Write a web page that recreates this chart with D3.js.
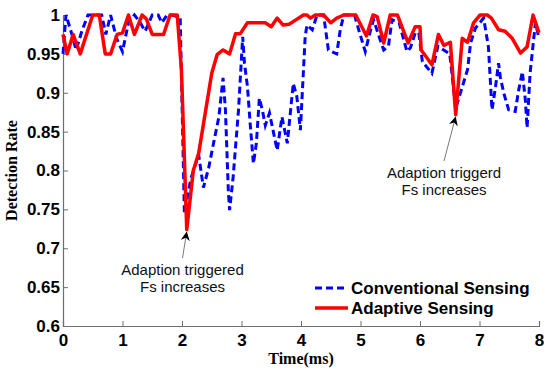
<!DOCTYPE html>
<html>
<head>
<meta charset="utf-8">
<script src="https://cdn.jsdelivr.net/npm/d3@7"></script>
<style>
  body { margin: 0; background: #fff; }
  svg { display: block; }
  .tick text { font-family: "Liberation Sans", Arial, sans-serif; font-weight: bold; font-size: 17px; fill: #000; }
</style>
</head>
<body>
<div id="chart"></div>
<script>
// data
var timeConv = [0, 0.05, 0.15, 0.22, 0.32, 0.42, 0.55, 0.65, 0.72, 0.8, 0.9, 1.0, 1.1, 1.2, 1.3, 1.38, 1.5, 1.6, 1.66, 1.75,
  1.84, 1.97, 2.04, 2.15, 2.28, 2.36, 2.45, 2.53, 2.62, 2.69, 2.73, 2.78, 2.8, 2.86, 2.95, 3.02, 3.05, 3.1, 3.15, 3.2,
  3.25, 3.3, 3.35, 3.4, 3.47, 3.54, 3.6, 3.68, 3.77, 3.87, 3.93, 3.99, 4.07, 4.1, 4.19, 4.27, 4.38, 4.46, 4.6, 4.66,
  4.72, 4.9, 4.97, 5.08, 5.17, 5.22, 5.33, 5.39, 5.47, 5.53, 5.65, 5.78, 5.84, 5.92, 5.98, 6.04, 6.2, 6.3, 6.5, 6.6,
  6.68, 6.8, 6.85, 6.93, 7.07, 7.15, 7.21, 7.27, 7.32, 7.35, 7.41, 7.49, 7.6, 7.66, 7.72, 7.77, 7.8, 7.85, 7.94, 8.0];
var rateConv = [0.95, 1.0, 0.975, 0.955, 0.98, 1.0, 1.0, 1.0, 0.975, 1.0, 0.97, 0.953, 0.99, 1.0, 0.99, 0.979, 1.0, 1.0, 0.99, 1.0,
  1.0, 0.996, 0.745, 0.79, 0.82, 0.778, 0.804, 0.835, 0.869, 0.919, 0.878, 0.771, 0.749, 0.792, 0.878, 0.972, 0.938, 0.908, 0.856, 0.809,
  0.835, 0.893, 0.878, 0.858, 0.874, 0.848, 0.826, 0.869, 0.835, 0.912, 0.895, 0.852, 0.972, 0.987, 0.981, 1.0, 1.0, 0.955, 0.95, 0.981,
  1.0, 1.0, 0.981, 0.953, 0.981, 0.994, 0.968, 0.955, 0.96, 0.994, 0.99, 0.953, 0.958, 0.977, 0.977, 0.94, 0.925, 0.96, 0.95, 0.88,
  0.90, 0.93, 0.964, 0.983, 0.996, 0.959, 0.878, 0.908, 0.938, 0.92, 0.899, 0.878, 0.876, 0.904, 0.927, 0.891, 0.855, 0.925, 0.99, 0.97];

var timeAdapt = [0, 0.07, 0.17, 0.29, 0.5, 0.61, 0.71, 0.8, 0.91, 1.0, 1.1, 1.2, 1.33, 1.4, 1.5, 1.69, 1.8, 1.92, 1.99, 2.08,
  2.19, 2.28, 2.5, 2.59, 2.69, 2.8, 2.9, 2.98, 3.1, 3.4, 3.5, 3.6, 3.7, 3.8, 3.94, 4.04, 4.1, 4.16, 4.24, 4.38,
  4.5, 4.6, 4.72, 4.92, 5.1, 5.21, 5.28, 5.39, 5.5, 5.62, 5.8, 5.92, 6.0, 6.02, 6.2, 6.31, 6.4, 6.51, 6.6, 6.71,
  6.8, 6.9, 7.01, 7.13, 7.2, 7.32, 7.43, 7.55, 7.69, 7.8, 7.9, 8.0];
var rateAdapt = [0.975, 0.95, 0.975, 0.95, 1.0, 1.0, 0.95, 0.95, 0.975, 0.977, 1.0, 0.975, 1.0, 0.995, 0.975, 0.975, 1.0, 1.0, 0.93, 0.724,
  0.80, 0.822, 0.925, 0.949, 0.955, 0.95, 0.976, 0.976, 0.99, 0.99, 0.985, 0.996, 0.987, 0.988, 0.995, 1.0, 1.0, 0.996, 1.0, 1.0,
  0.99, 0.996, 1.0, 1.0, 0.973, 1.0, 0.998, 0.964, 1.0, 1.0, 0.964, 0.985, 0.985, 0.955, 0.936, 0.975, 0.961, 0.965, 0.872, 0.97,
  0.965, 0.99, 1.0, 1.0, 0.996, 0.981, 0.979, 0.97, 0.951, 0.959, 1.0, 0.977];

var xTicks = [0, 1, 2, 3, 4, 5, 6, 7, 8];
var yTicks = [0.6, 0.65, 0.7, 0.75, 0.8, 0.85, 0.9, 0.95, 1];
var seriesNames = ['Conventional Sensing', 'Adaptive Sensing'];

var width = 550, height = 371;
var margin = {top: 15, right: 11, bottom: 45, left: 63};
var w = width - margin.left - margin.right,
  h = height - margin.top - margin.bottom;

var svg = d3.select('#chart').append('svg')
  .attr('width', width)
  .attr('height', height);

var g = svg.append('g')
  .attr('transform', 'translate(' + margin.left + ',' + margin.top + ')');

var x = d3.scaleLinear().domain([0, 8]).range([0, w]);
var y = d3.scaleLinear().domain([0.6, 1]).range([h, 0]);

// axes (left + bottom only, ticks pointing in)
var xAxis = g.append('g')
  .attr('transform', 'translate(0,' + h + ')')
  .call(d3.axisBottom(x).tickValues(xTicks).tickSize(-5).tickPadding(8).tickFormat(d3.format('d')));
var yAxis = g.append('g')
  .call(d3.axisLeft(y).tickValues(yTicks).tickSize(-5).tickPadding(3).tickFormat(function(d) { return String(+d.toFixed(2)); }));

[xAxis, yAxis].forEach(function(a) {
  a.select('.domain').attr('stroke', '#6e6e6e').attr('stroke-width', 1.2);
  a.selectAll('.tick line').attr('stroke', '#6e6e6e');
});

var line = d3.line()
  .x(function(d) { return x(d[0]); })
  .y(function(d) { return y(d[1]); });

var conv = timeConv.map(function(t, i) { return [t, rateConv[i]]; });
var adapt = timeAdapt.map(function(t, i) { return [t, rateAdapt[i]]; });

g.append('path')
  .datum(conv)
  .attr('d', line)
  .attr('fill', 'none')
  .attr('stroke', '#0000ff')
  .attr('stroke-width', 3)
  .attr('stroke-dasharray', '7,4');

g.append('path')
  .datum(adapt)
  .attr('d', line)
  .attr('fill', 'none')
  .attr('stroke', '#ff0000')
  .attr('stroke-width', 3.5)
  .attr('stroke-linejoin', 'round');

// annotations
svg.append('defs').append('marker')
  .attr('id', 'arr')
  .attr('viewBox', '0 0 10 10')
  .attr('refX', 10).attr('refY', 5)
  .attr('markerWidth', 9).attr('markerHeight', 9)
  .attr('markerUnits', 'userSpaceOnUse')
  .attr('orient', 'auto')
  .append('path')
  .attr('d', 'M0,0 L10,5 L0,10 L3,5 Z')
  .attr('fill', '#000');

var notes = [
  {t: 2.08, v: 0.724, tx: 182.5, ty: 275, lines: ['Adaption triggered', 'Fs increases']},
  {t: 6.6, v: 0.872, tx: 444, ty: 178, lines: ['Adaption triggerd', 'Fs increases']}
];
notes.forEach(function(n) {
  var px = margin.left + x(n.t), py = margin.top + y(n.v);
  svg.append('line')
    .attr('x1', n.tx).attr('y1', n.ty - 17)
    .attr('x2', px).attr('y2', py + 2)
    .attr('stroke', '#555').attr('stroke-width', 0.8)
    .attr('marker-end', 'url(#arr)');
  var t = svg.append('text')
    .attr('x', n.tx).attr('y', n.ty)
    .attr('text-anchor', 'middle')
    .style('font-family', '"Liberation Sans", Arial, sans-serif')
    .style('font-size', '15px')
    .style('fill', '#111');
  n.lines.forEach(function(s, i) {
    t.append('tspan').attr('x', n.tx).attr('dy', i ? 17 : 0).text(s);
  });
});

// legend
var legend = svg.append('g').attr('transform', 'translate(315,288)');
[['#0000ff', '7,4', 3], ['#ff0000', null, 3.5]].forEach(function(s, i) {
  legend.append('line')
    .attr('x1', 0).attr('x2', 33)
    .attr('y1', i * 20).attr('y2', i * 20)
    .attr('stroke', s[0])
    .attr('stroke-width', s[2])
    .attr('stroke-dasharray', s[1]);
  legend.append('text')
    .attr('x', 36).attr('y', i * 20)
    .attr('dy', '0.36em')
    .style('font-family', '"Liberation Sans", Arial, sans-serif')
    .style('font-weight', 'bold')
    .style('font-size', '17px')
    .text(seriesNames[i]);
});

// axis titles
svg.append('text')
  .attr('x', margin.left + w / 2).attr('y', 364)
  .attr('text-anchor', 'middle')
  .style('font-family', '"Liberation Serif", "Times New Roman", serif')
  .style('font-weight', 'bold')
  .style('font-size', '16px')
  .text('Time(ms)');

svg.append('text')
  .attr('transform', 'translate(17,' + (margin.top + h / 2) + ') rotate(-90)')
  .attr('text-anchor', 'middle')
  .style('font-family', '"Liberation Serif", "Times New Roman", serif')
  .style('font-weight', 'bold')
  .style('font-size', '16px')
  .text('Detection Rate');
</script>
</body>
</html>
